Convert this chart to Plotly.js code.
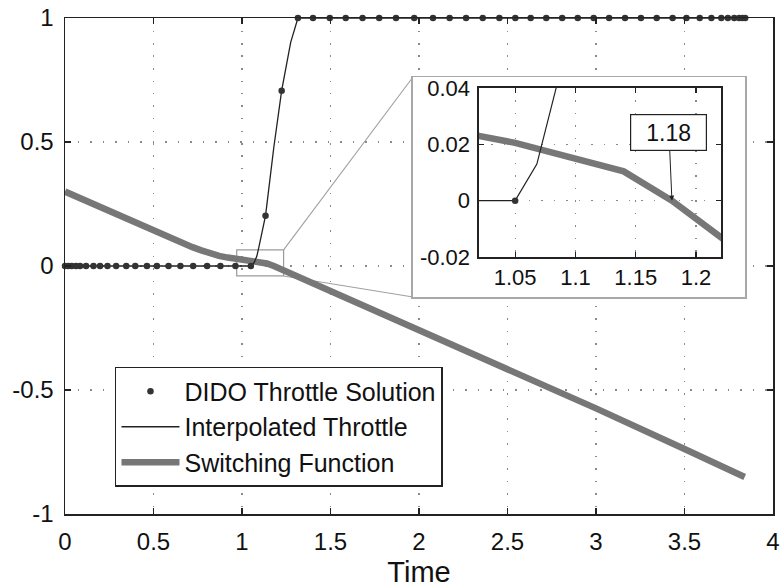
<!DOCTYPE html>
<html>
<head>
<meta charset="utf-8">
<script src="https://cdn.plot.ly/plotly-3.0.1.min.js"></script>
<style>
  html, body { margin: 0; padding: 0; background: #fff; }
  #chart { width: 784px; height: 588px; }
</style>
</head>
<body>
<div id="chart"></div>
<script>
// DIDO collocation nodes (time) and the throttle value found at each node
const didoTime = [0, 0.019, 0.038, 0.062, 0.085, 0.119, 0.161, 0.198, 0.240, 0.289,
  0.346, 0.397, 0.463, 0.519, 0.585, 0.652, 0.724, 0.803, 0.878, 0.963, 1.05,
  1.133, 1.224,
  1.316, 1.401, 1.496, 1.586, 1.681, 1.775, 1.870, 1.973, 2.079, 2.173, 2.266, 2.360,
  2.454, 2.544, 2.631, 2.719, 2.809, 2.897, 2.987, 3.074, 3.164, 3.254, 3.343, 3.433,
  3.511, 3.586, 3.652, 3.708, 3.745, 3.781, 3.809, 3.828, 3.843];
const didoThrottle = [0, 0, 0, 0, 0, 0, 0, 0, 0, 0,
  0, 0, 0, 0, 0, 0, 0, 0, 0, 0, 0,
  0.203, 0.707,
  1, 1, 1, 1, 1, 1, 1, 1, 1, 1, 1, 1,
  1, 1, 1, 1, 1, 1, 1, 1, 1, 1, 1, 1,
  1, 1, 1, 1, 1, 1, 1, 1, 1];

// Interpolated throttle curve between the nodes
const interpTime = [0, 1.05, 1.068, 1.084, 1.095, 1.133, 1.18, 1.224, 1.275, 1.316, 3.843];
const interpThrottle = [0, 0, 0.013, 0.04, 0.075, 0.203, 0.48, 0.707, 0.902, 1, 1];

// Switching function
const switchTime = [0, 0.25, 0.5, 0.65, 0.72, 0.77, 0.82, 0.87, 0.92, 1.0, 1.02, 1.05, 1.14,
  1.18, 1.22, 1.3, 1.5, 2.0, 2.5, 3.0, 3.5, 3.84];
const switchValue = [0.30, 0.221, 0.140, 0.093, 0.076, 0.063, 0.050, 0.041, 0.034, 0.0255,
  0.023, 0.0205, 0.0104, 0.0, -0.0125, -0.037, -0.100, -0.262, -0.418, -0.574, -0.738, -0.851];

// Tick labels
const mainXTicks = [0, 0.5, 1, 1.5, 2, 2.5, 3, 3.5, 4];
const mainXText = ['0', '0.5', '1', '1.5', '2', '2.5', '3', '3.5', '4'];
const mainYTicks = [-1, -0.5, 0, 0.5, 1];
const mainYText = ['-1', '-0.5', '0', '0.5', '1'];
const zoomXTicks = [1.05, 1.1, 1.15, 1.2];
const zoomXText = ['1.05', '1.1', '1.15', '1.2'];
const zoomYTicks = [-0.02, 0, 0.02, 0.04];
const zoomYText = ['-0.02', '0', '0.02', '0.04'];

// Switching time marked in the zoomed view
const switchPoint = 1.18;

// Ranges
const mainXRange = [0, 4];
const mainYRange = [-1, 1];
const zoomXRange = [1.02, 1.2207];
const zoomYRange = [-0.02, 0.04];
const boxX = [0.97, 1.235];
const boxY = [-0.04, 0.065];

const FONT = 'Liberation Sans, Arial, Helvetica, sans-serif';
const INK = '#222';
const SWITCH_COLOR = '#777777';

// paper-coordinate helpers for the main axes
const px = v => (v - mainXRange[0]) / (mainXRange[1] - mainXRange[0]);
const py = v => (v - mainYRange[0]) / (mainYRange[1] - mainYRange[0]);

const frameDomX = [0.4915, 0.9605];
const frameDomY = [0.4375, 0.8810];
const zoomDomX = [0.5847, 0.9266];
const zoomDomY = [0.5181, 0.8589];

const traces = [
  // main axes
  { x: switchTime, y: switchValue, mode: 'lines', name: 'Switching Function',
    line: { color: SWITCH_COLOR, width: 6.5 }, legendrank: 3, cliponaxis: false },
  { x: interpTime, y: interpThrottle, mode: 'lines', name: 'Interpolated Throttle',
    line: { color: INK, width: 1.3 }, legendrank: 2, cliponaxis: false },
  { x: didoTime, y: didoThrottle, mode: 'markers', name: 'DIDO Throttle Solution',
    marker: { color: '#333', size: 6.5 }, legendrank: 1, cliponaxis: false },
  // frame behind the zoomed view
  { x: [], y: [], xaxis: 'x2', yaxis: 'y2', showlegend: false, hoverinfo: 'skip' },
  // zoomed view
  { x: switchTime, y: switchValue, mode: 'lines', xaxis: 'x3', yaxis: 'y3', showlegend: false,
    line: { color: SWITCH_COLOR, width: 6.5 } },
  { x: interpTime, y: interpThrottle, mode: 'lines', xaxis: 'x3', yaxis: 'y3', showlegend: false,
    line: { color: INK, width: 1.2 } },
  { x: didoTime, y: didoThrottle, mode: 'markers', xaxis: 'x3', yaxis: 'y3', showlegend: false,
    marker: { color: '#333', size: 6.5 } }
];

const gridStyle = { showgrid: true, gridcolor: '#8a8a8a', gridwidth: 1.2, griddash: '1.5px,11px' };
const frameAxis = { showline: true, linecolor: INK, linewidth: 1.5, mirror: 'ticks',
  ticks: 'inside', ticklen: 6, tickwidth: 1.2, tickcolor: INK, zeroline: false };

const layout = {
  width: 784, height: 588,
  margin: { l: 65, r: 11, t: 18, b: 74 },
  paper_bgcolor: '#fff', plot_bgcolor: '#fff',
  font: { family: FONT, color: '#111', size: 24 },
  showlegend: true,
  legend: {
    x: 0.0706, y: 0.2964, xanchor: 'left', yanchor: 'top',
    bgcolor: '#fff', bordercolor: INK, borderwidth: 1.5,
    font: { family: FONT, size: 25, color: '#111' },
    itemwidth: 58, tracegroupgap: 0
  },
  xaxis: Object.assign({}, frameAxis, gridStyle, {
    domain: [0, 1], range: mainXRange, anchor: 'y',
    tickmode: 'array', tickvals: mainXTicks, ticktext: mainXText,
    tickfont: { size: 24 }, ticklabelstandoff: 6,
    title: { text: 'Time', font: { size: 29 }, standoff: 12 }
  }),
  yaxis: Object.assign({}, frameAxis, gridStyle, {
    domain: [0, 1], range: mainYRange, anchor: 'x',
    tickmode: 'array', tickvals: mainYTicks, ticktext: mainYText,
    tickfont: { size: 24 }, ticklabelstandoff: 5
  }),
  xaxis2: { domain: frameDomX, range: [0, 1], anchor: 'y2', showline: true, mirror: true,
    linecolor: '#a8a8a8', linewidth: 1.5, showgrid: false, zeroline: false,
    showticklabels: false, ticks: '', fixedrange: true },
  yaxis2: { domain: frameDomY, range: [0, 1], anchor: 'x2', showline: true, mirror: true,
    linecolor: '#a8a8a8', linewidth: 1.5, showgrid: false, zeroline: false,
    showticklabels: false, ticks: '', fixedrange: true },
  xaxis3: Object.assign({}, frameAxis, gridStyle, {
    domain: zoomDomX, range: zoomXRange, anchor: 'y3',
    tickmode: 'array', tickvals: zoomXTicks, ticktext: zoomXText,
    tickfont: { size: 22 }, ticklabelstandoff: 0, ticklen: 5
  }),
  yaxis3: Object.assign({}, frameAxis, gridStyle, {
    domain: zoomDomY, range: zoomYRange, anchor: 'x3',
    tickmode: 'array', tickvals: zoomYTicks, ticktext: zoomYText,
    tickfont: { size: 22 }, ticklabelstandoff: 3, ticklen: 5
  }),
  shapes: [
    // zoom region marker on the main axes
    { type: 'rect', xref: 'x', yref: 'y', x0: boxX[0], x1: boxX[1], y0: boxY[0], y1: boxY[1],
      line: { color: '#9a9a9a', width: 1.2 }, layer: 'below' },
    // leader lines to the zoomed view
    { type: 'line', xref: 'paper', yref: 'paper', x0: px(boxX[1]), y0: py(boxY[1]),
      x1: frameDomX[0], y1: frameDomY[1], line: { color: '#a0a0a0', width: 1.1 }, layer: 'below' },
    { type: 'line', xref: 'paper', yref: 'paper', x0: px(boxX[1]), y0: py(boxY[0]),
      x1: frameDomX[0], y1: frameDomY[0], line: { color: '#a0a0a0', width: 1.1 }, layer: 'below' }
  ],
  annotations: [
    { xref: 'x3', yref: 'y3', x: switchPoint, y: 0, text: String(switchPoint),
      showarrow: true, arrowhead: 2, arrowsize: 1, arrowwidth: 1, arrowcolor: INK,
      ax: -3, ay: -68, standoff: 0,
      font: { family: FONT, size: 23, color: '#111' },
      bgcolor: '#fff', bordercolor: INK, borderwidth: 1.2, borderpad: 1,
      width: 73, height: 33 }
  ]
};

Plotly.newPlot('chart', traces, layout, { staticPlot: true, displayModeBar: false });
</script>
</body>
</html>
